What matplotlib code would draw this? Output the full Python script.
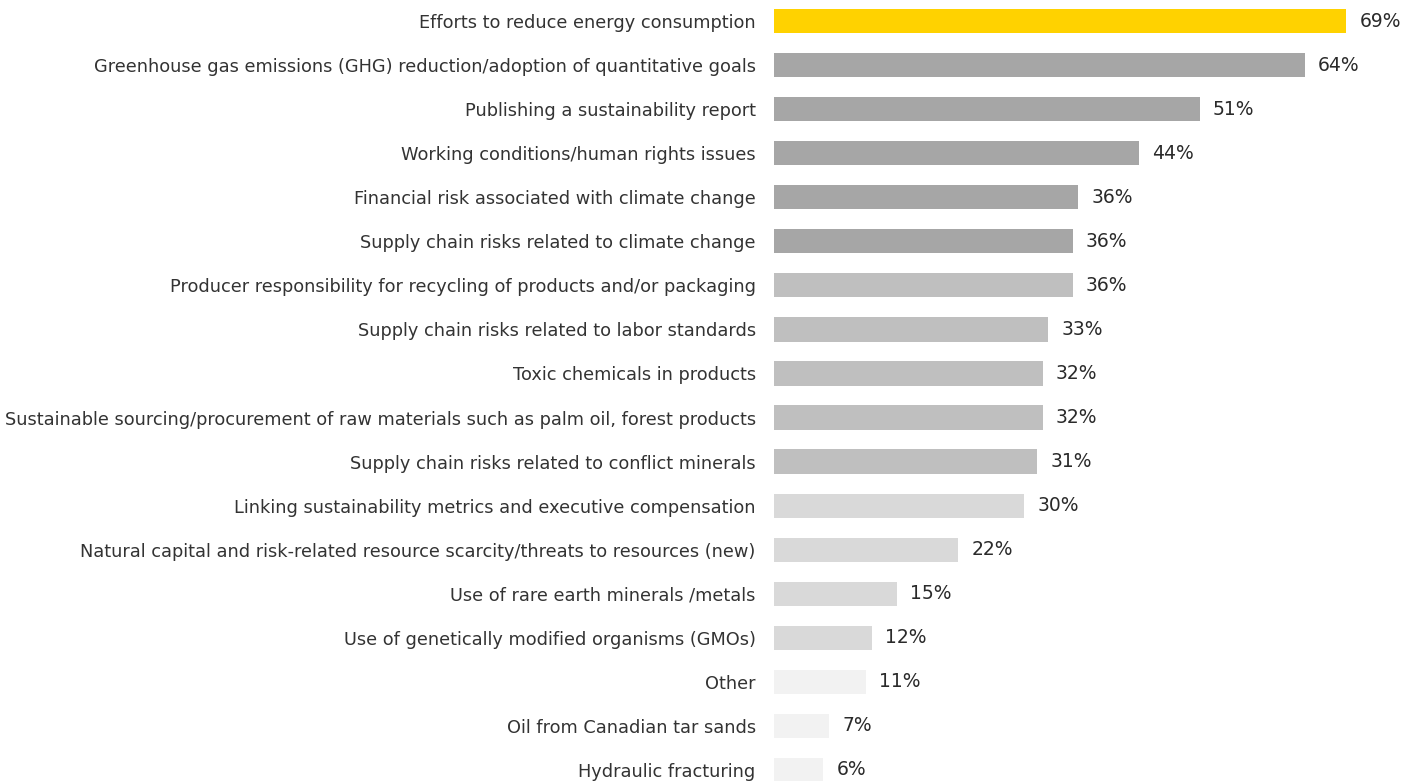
import matplotlib.pyplot as plt

# Data (top to bottom)
categories = [
    "Efforts to reduce energy consumption",
    "Greenhouse gas emissions (GHG) reduction/adoption of quantitative goals",
    "Publishing a sustainability report",
    "Working conditions/human rights issues",
    "Financial risk associated with climate change",
    "Supply chain risks related to climate change",
    "Producer responsibility for recycling of products and/or packaging",
    "Supply chain risks related to labor standards",
    "Toxic chemicals in products",
    "Sustainable sourcing/procurement of raw materials such as palm oil, forest products",
    "Supply chain risks related to conflict minerals",
    "Linking sustainability metrics and executive compensation",
    "Natural capital and risk-related resource scarcity/threats to resources (new)",
    "Use of rare earth minerals /metals",
    "Use of genetically modified organisms (GMOs)",
    "Other",
    "Oil from Canadian tar sands",
    "Hydraulic fracturing",
]
values = [69.0, 64.0, 51.3, 44.0, 36.7, 36.0, 36.0, 33.1, 32.4, 32.4,
          31.7, 30.2, 22.2, 14.8, 11.8, 11.1, 6.7, 6.0]
labels = ["69%", "64%", "51%", "44%", "36%", "36%", "36%", "33%", "32%",
          "32%", "31%", "30%", "22%", "15%", "12%", "11%", "7%", "6%"]
groups = [0, 1, 1, 1, 1, 1, 2, 2, 2, 2, 2, 3, 3, 3, 3, 4, 4, 4]
palette = ["#FFD200", "#A6A6A6", "#BFBFBF", "#D9D9D9", "#F2F2F2"]

fig = plt.figure(figsize=(14.17, 7.81), dpi=100)
ax = fig.add_axes([0.546, 0.0, 0.454, 1.0])

y = list(range(len(categories)))
colors = [palette[g] for g in groups]
ax.barh(y, values, height=0.55, color=colors)

for yi, v, lab in zip(y, values, labels):
    ax.text(v + 1.6, yi, lab, va="center", ha="left", fontsize=13.5,
            color="#2a2a2a")

ax.set_yticks(y)
ax.set_yticklabels(categories, fontsize=12.75, color="#333333")
ax.tick_params(axis="y", length=0, pad=13)
ax.set_xticks([])
ax.set_xlim(0, 77.5)
ax.set_ylim(17.25, -0.477)
for s in ax.spines.values():
    s.set_visible(False)

fig.savefig("out.png", dpi=100)
